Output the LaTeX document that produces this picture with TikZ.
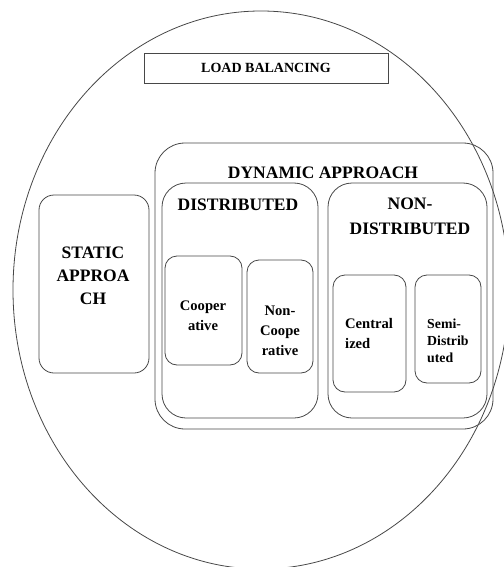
\documentclass[tikz,border=0pt]{standalone}
\usepackage{fontspec}
\setmainfont{Liberation Serif}
\usetikzlibrary{shapes.geometric}
\begin{document}
\begin{tikzpicture}[x=1pt,y=-1pt,
  line/.style={draw=black!72, line width=0.8pt},
  rbox/.style={line, rectangle, rounded corners=#1, inner sep=0pt},
  rbox/.default=12pt,
  big/.style={font=\fontsize{17.5}{25}\selectfont\bfseries, inner sep=0pt},
  small/.style={font=\fontsize{14.6}{20}\selectfont\bfseries, inner sep=0pt}]
\useasboundingbox (0,0) rectangle (503,567);
\node[line, ellipse, inner sep=0pt, minimum width=496pt, minimum height=558pt] (ell) at (261,290) {};
\node[line, rectangle, inner sep=0pt, minimum width=244pt, minimum height=30pt,
  font=\fontsize{14}{16}\selectfont\bfseries] (lb) at (266,68) {LOAD BALANCING};
\node[rbox=30pt, minimum width=338pt, minimum height=286pt] (dyn) at (324,286) {};
\node[big] (dynl) at (323,173) {DYNAMIC APPROACH};
\node[rbox=24pt, minimum width=156pt, minimum height=235pt] (dist) at (240,300.5) {};
\node[big] (distl) at (238,205) {DISTRIBUTED};
\node[rbox=24pt, minimum width=159pt, minimum height=235pt] (nd) at (407.5,300.5) {};
\node[big, align=center] (ndl) at (410,216) {NON-\\DISTRIBUTED};
\node[rbox=15pt, minimum width=110pt, minimum height=178pt] (st) at (94,284) {};
\node[big, align=center, font=\fontsize{17.5}{23}\selectfont\bfseries] (stl) at (93,276) {STATIC\\APPROA\\CH};
\node[rbox, minimum width=77pt, minimum height=109pt] (coop) at (203.5,310.5) {};
\node[small, align=center] (coopl) at (203,316) {Cooper\\ative};
\node[rbox, minimum width=66pt, minimum height=113pt] (ncoop) at (280,316.5) {};
\node[small, align=center] (ncoopl) at (280,331) {Non-\\Coope\\rative};
\node[rbox, minimum width=73pt, minimum height=117pt] (cen) at (369.5,333.5) {};
\node[small, align=left, anchor=west] (cenl) at (345,334) {Central\\ized};
\node[rbox, minimum width=66pt, minimum height=108pt] (semi) at (448,329) {};
\node[small, align=left, anchor=west, font=\fontsize{13.8}{17}\selectfont\bfseries] (semil) at (427,341) {Semi-\\Distrib\\uted};
\end{tikzpicture}
\end{document}
